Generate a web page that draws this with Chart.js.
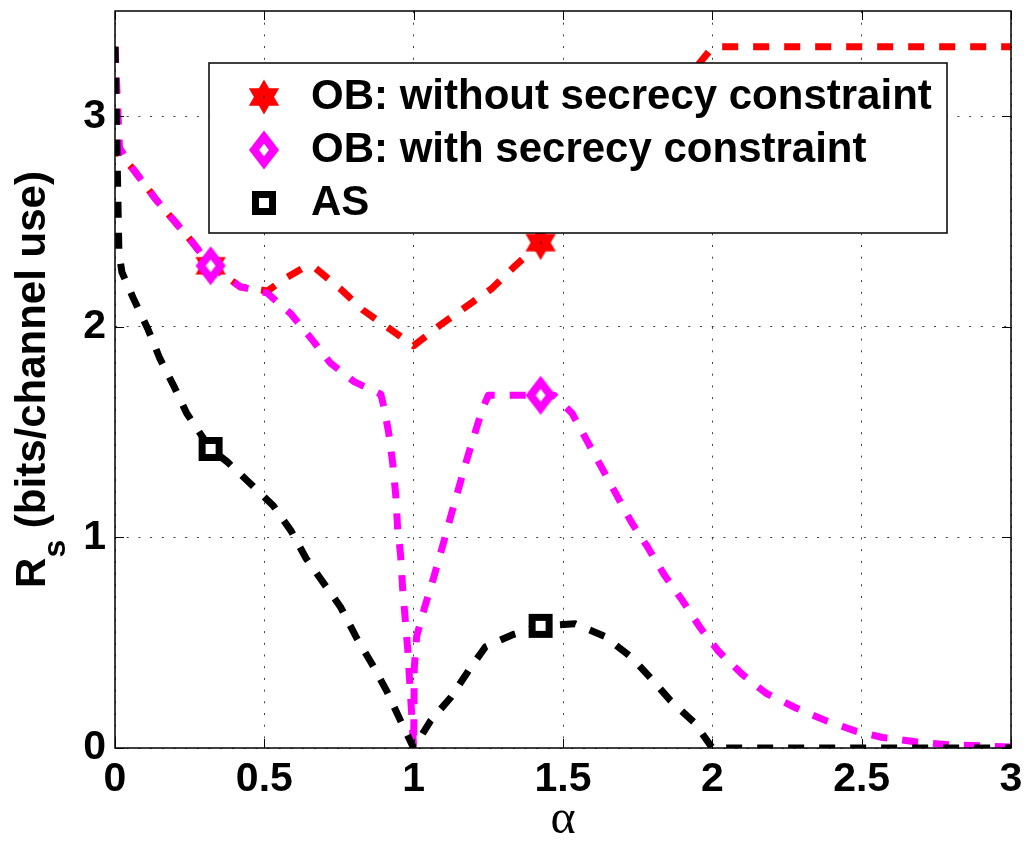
<!DOCTYPE html>
<html>
<head>
<meta charset="utf-8">
<script src="https://cdn.jsdelivr.net/npm/chart.js@4/dist/chart.umd.min.js"></script>
<style>
  html, body { margin: 0; padding: 0; background: #ffffff; }
  #c { display: block; }
</style>
</head>
<body>
<canvas id="c" width="1026" height="841"></canvas>
<script>
// Secrecy rate R_s versus alpha for the three schemes
const seriesLabels = ['OB: without secrecy constraint', 'OB: with secrecy constraint', 'AS'];

const alphaNoSecrecy = [0, 0.007, 0.06, 0.14, 0.20, 0.26, 0.32, 0.42, 0.51, 0.57, 0.63, 0.67, 0.755, 0.83, 0.92, 1.0,
  1.09, 1.17, 1.26, 1.34, 1.425, 1.6, 1.8, 1.95, 1.99, 2.02, 3.0];
const rateNoSecrecy = [3.33, 2.83, 2.75, 2.60, 2.50, 2.40, 2.29, 2.19, 2.17, 2.23, 2.28, 2.28, 2.18, 2.08, 1.99, 1.91,
  2.01, 2.09, 2.18, 2.29, 2.40, 2.68, 2.98, 3.24, 3.31, 3.33, 3.33];

const alphaWithSecrecy = [0, 0.015, 0.06, 0.134, 0.20, 0.26, 0.32, 0.42, 0.51, 0.59, 0.665, 0.72, 0.80, 0.89, 0.90,
  0.916, 0.93, 0.94, 0.946, 0.956, 0.963, 0.98, 0.993, 1.0, 1.002, 1.01, 1.037, 1.067, 1.097, 1.124, 1.15, 1.18,
  1.23, 1.25, 1.425, 1.47, 1.53, 1.58, 1.63, 1.68, 1.73, 1.785, 1.84, 1.90, 1.96, 2.02, 2.10, 2.18, 2.28, 2.38,
  2.48, 2.57, 2.68, 2.79, 2.90, 3.0];
const rateWithSecrecy = [3.33, 2.85, 2.75, 2.61, 2.50, 2.40, 2.29, 2.19, 2.16, 2.06, 1.93, 1.83, 1.74, 1.68, 1.62,
  1.50, 1.35, 1.20, 1.05, 0.92, 0.76, 0.47, 0.17, 0.0, 0.38, 0.53, 0.67, 0.81, 0.96, 1.10, 1.23, 1.38,
  1.61, 1.675, 1.675, 1.675, 1.59, 1.46, 1.33, 1.20, 1.07, 0.95, 0.82, 0.70, 0.57, 0.46, 0.35, 0.26, 0.19, 0.13,
  0.08, 0.05, 0.03, 0.015, 0.01, 0.005];

const alphaAS = [0, 0.013, 0.023, 0.06, 0.11, 0.15, 0.20, 0.24, 0.32, 0.375, 0.45, 0.53, 0.59, 0.64, 0.69, 0.755,
  0.81, 0.86, 0.91, 0.956, 1.0, 1.057, 1.124, 1.185, 1.24, 1.27, 1.335, 1.425, 1.54, 1.64, 1.73, 1.795, 1.86,
  1.94, 2.0, 3.0];
const rateAS = [3.33, 2.36, 2.26, 2.14, 1.99, 1.85, 1.71, 1.59, 1.42, 1.36, 1.26, 1.15, 1.03, 0.90, 0.80, 0.67,
  0.52, 0.40, 0.27, 0.13, 0.0, 0.13, 0.24, 0.37, 0.48, 0.50, 0.54, 0.58, 0.59, 0.53, 0.43, 0.33, 0.225,
  0.12, 0.0, 0.0];

// marker positions on each curve
const markerAlpha = [0.32, 1.425];
const markerNoSecrecy = [2.29, 2.40];
const markerWithSecrecy = [2.29, 1.675];
const markerAS = [1.42, 0.58];

const xTickValues = [0, 0.5, 1, 1.5, 2, 2.5, 3];
const xTickLabels = ['0', '0.5', '1', '1.5', '2', '2.5', '3'];
const yTickValues = [0, 1, 2, 3];
const yTickLabels = ['0', '1', '2', '3'];

const RED = '#ff0000';
const MAGENTA = '#ff00ff';
const BLACK = '#000000';
const SANS = "'Liberation Sans', Arial, Helvetica, sans-serif";

function toPoints(xs, ys) {
  return xs.map((v, i) => ({ x: v, y: ys[i] }));
}

// marker glyphs
function hexagramImage(color) {
  const c = document.createElement('canvas');
  c.width = 40; c.height = 40;
  const g = c.getContext('2d');
  const R = 17.5, r = R / Math.sqrt(3);
  g.beginPath();
  for (let i = 0; i < 12; i++) {
    const ang = -Math.PI / 2 + i * Math.PI / 6;
    const rad = i % 2 === 0 ? R : r;
    const px = 20 + rad * Math.cos(ang), py = 20 + rad * Math.sin(ang);
    if (i === 0) g.moveTo(px, py); else g.lineTo(px, py);
  }
  g.closePath();
  g.fillStyle = color;
  g.fill();
  g.fillStyle = '#990000';
  g.fillRect(19, 19, 2, 2);
  return c;
}

function diamondImage(color) {
  const c = document.createElement('canvas');
  c.width = 36; c.height = 44;
  const g = c.getContext('2d');
  const cx = 18, cy = 22, hw = 10, hh = 13;
  g.beginPath();
  g.moveTo(cx, cy - hh); g.lineTo(cx + hw, cy); g.lineTo(cx, cy + hh); g.lineTo(cx - hw, cy);
  g.closePath();
  g.fillStyle = '#ffffff';
  g.fill();
  g.lineJoin = 'miter';
  g.lineWidth = 8;
  g.strokeStyle = color;
  g.stroke();
  return c;
}

function squareImage(color) {
  const c = document.createElement('canvas');
  c.width = 30; c.height = 30;
  const g = c.getContext('2d');
  g.fillStyle = '#ffffff';
  g.fillRect(6.5, 6.5, 17, 17);
  g.lineWidth = 7;
  g.strokeStyle = color;
  g.strokeRect(6.5, 6.5, 17, 17);
  return c;
}

const markerImages = [hexagramImage(RED), diamondImage(MAGENTA), squareImage(BLACK)];

function curve(label, xs, ys, color, order) {
  return {
    label: label,
    data: toPoints(xs, ys),
    borderColor: color,
    backgroundColor: color,
    borderWidth: 7,
    borderDash: [16, 15],
    borderJoinStyle: 'round',
    pointRadius: 0,
    pointHoverRadius: 0,
    tension: 0,
    fill: false,
    clip: 0,
    order: order
  };
}

function markers(label, ys, img, order) {
  return {
    label: label,
    data: toPoints(markerAlpha, ys),
    showLine: false,
    pointStyle: img,
    pointRadius: 10,
    pointHoverRadius: 10,
    order: order
  };
}

// frame, inward ticks, boxed legend and the R_s axis title
const decorations = {
  id: 'decorations',
  afterDatasetsDraw(chart) {
    const { ctx, chartArea: a, scales: { x, y } } = chart;
    ctx.save();

    // inward tick marks on all four sides
    ctx.strokeStyle = '#000';
    ctx.lineWidth = 1;
    ctx.beginPath();
    x.ticks.forEach(t => {
      const px = Math.round(x.getPixelForValue(t.value)) + 0.5;
      ctx.moveTo(px, a.bottom); ctx.lineTo(px, a.bottom - 9);
      ctx.moveTo(px, a.top); ctx.lineTo(px, a.top + 9);
    });
    y.ticks.forEach(t => {
      const py = Math.round(y.getPixelForValue(t.value)) + 0.5;
      ctx.moveTo(a.left, py); ctx.lineTo(a.left + 9, py);
      ctx.moveTo(a.right, py); ctx.lineTo(a.right - 9, py);
    });
    ctx.stroke();

    // plot frame
    ctx.lineWidth = 1.5;
    ctx.strokeRect(a.left, a.top, a.right - a.left, a.bottom - a.top);

    // legend box
    const box = { left: 209, top: 63, right: 947, bottom: 233 };
    ctx.fillStyle = '#ffffff';
    ctx.fillRect(box.left, box.top, box.right - box.left, box.bottom - box.top);
    ctx.lineWidth = 1.5;
    ctx.strokeStyle = '#000';
    ctx.strokeRect(box.left, box.top, box.right - box.left, box.bottom - box.top);

    const rowY = [97, 150, 203];
    const markerX = 264;
    const textX = 311;
    ctx.font = 'bold 42px ' + SANS;
    ctx.fillStyle = '#000';
    ctx.textAlign = 'left';
    ctx.textBaseline = 'middle';
    seriesLabels.forEach((lab, i) => {
      const img = markerImages[i];
      ctx.drawImage(img, markerX - img.width / 2, rowY[i] - img.height / 2);
      ctx.fillText(lab, textX, rowY[i]);
    });
    ctx.restore();
  },
  afterDraw(chart) {
    const { ctx, chartArea: a } = chart;
    const cy = (a.top + a.bottom) / 2;
    ctx.save();
    ctx.translate(45, cy);
    ctx.rotate(-Math.PI / 2);
    ctx.fillStyle = '#000';
    ctx.textBaseline = 'alphabetic';
    ctx.textAlign = 'left';
    const mainFont = 'bold 42px ' + SANS;
    const subFont = 'bold 32px ' + SANS;
    ctx.font = mainFont;
    const wR = ctx.measureText('R').width;
    const rest = ' (bits/channel use)';
    const wRest = ctx.measureText(rest).width;
    ctx.font = subFont;
    const wS = ctx.measureText('s').width;
    let tx = -(wR + wS + wRest) / 2;
    ctx.font = mainFont;
    ctx.fillText('R', tx, 0);
    tx += wR;
    ctx.font = subFont;
    ctx.fillText('s', tx, 20);
    tx += wS;
    ctx.font = mainFont;
    ctx.fillText(rest, tx, 0);
    ctx.restore();
  }
};

const gridDash = [2, 9.7];

function noEdgePadding(scale) {
  scale.paddingTop = 0;
  scale.paddingBottom = 0;
  scale.paddingLeft = 0;
  scale.paddingRight = 0;
}

new Chart(document.getElementById('c'), {
  type: 'line',
  data: {
    datasets: [
      curve(seriesLabels[0], alphaNoSecrecy, rateNoSecrecy, RED, 6),
      curve(seriesLabels[1], alphaWithSecrecy, rateWithSecrecy, MAGENTA, 5),
      curve(seriesLabels[2], alphaAS, rateAS, BLACK, 4),
      markers(seriesLabels[0], markerNoSecrecy, markerImages[0], 3),
      markers(seriesLabels[1], markerWithSecrecy, markerImages[1], 2),
      markers(seriesLabels[2], markerAS, markerImages[2], 1)
    ]
  },
  options: {
    responsive: false,
    animation: false,
    events: [],
    layout: { padding: { top: 7, right: 15, left: 0, bottom: 0 } },
    plugins: {
      legend: { display: false },
      tooltip: { enabled: false }
    },
    scales: {
      x: {
        type: 'linear',
        min: 0,
        max: 3,
        afterBuildTicks(scale) { scale.ticks = xTickValues.map(v => ({ value: v })); },
        afterFit(scale) { scale.height = 93; noEdgePadding(scale); },
        grid: { color: 'rgba(0,0,0,0.75)', lineWidth: 1, drawTicks: false },
        border: { display: false, dash: gridDash },
        ticks: {
          color: '#000',
          padding: 7,
          maxRotation: 0,
          autoSkip: false,
          font: { family: SANS, size: 41, weight: 'bold', lineHeight: 1.2 },
          callback: (v, i) => xTickLabels[i]
        },
        title: {
          display: true,
          text: 'α',
          color: '#000',
          padding: 0,
          font: { family: "'Liberation Serif', 'Times New Roman', serif", size: 48, weight: 'normal', lineHeight: 0.875 }
        }
      },
      y: {
        type: 'linear',
        min: 0,
        max: 3.5,
        afterBuildTicks(scale) { scale.ticks = yTickValues.map(v => ({ value: v })); },
        afterFit(scale) { scale.width = 115; noEdgePadding(scale); },
        grid: { color: 'rgba(0,0,0,0.75)', lineWidth: 1, drawTicks: false },
        border: { display: false, dash: gridDash },
        ticks: {
          color: '#000',
          padding: 9,
          font: { family: SANS, size: 41, weight: 'bold', lineHeight: 1.2 },
          callback: (v, i) => yTickLabels[i]
        }
      }
    }
  },
  plugins: [decorations]
});
</script>
</body>
</html>
